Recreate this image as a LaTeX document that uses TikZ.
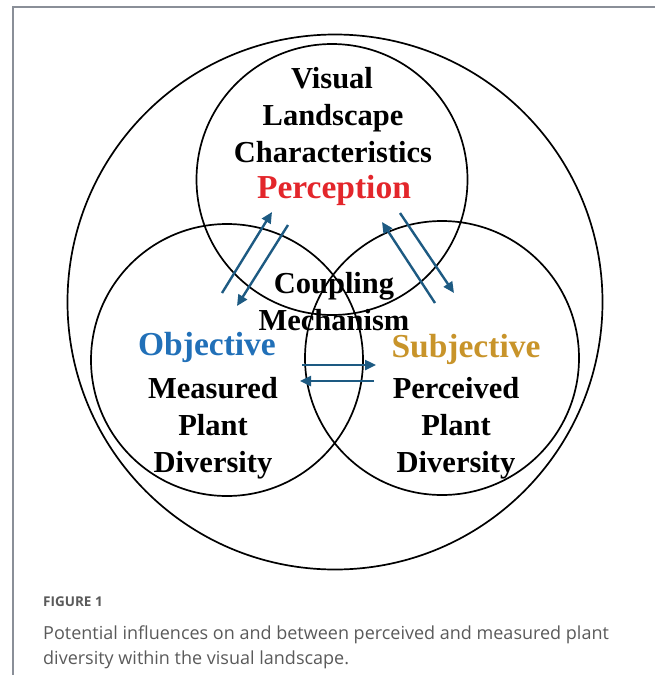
\documentclass[tikz,border=0pt]{standalone}
\usepackage{fontspec}
\setmainfont{Liberation Serif}
\newfontfamily\capfont{Open Sans}
\usetikzlibrary{arrows.meta}
\definecolor{percred}{HTML}{E3262B}
\definecolor{objblue}{HTML}{2170B8}
\definecolor{subjgold}{HTML}{C8942A}
\definecolor{flowblue}{HTML}{1D5A82}
\definecolor{framegray}{HTML}{8A8F98}
\definecolor{capgray}{HTML}{5A5A5A}
\begin{document}
\begin{tikzpicture}[x=1pt,y=-1pt,
    ring/.style={draw,line width=1.7pt},
    word/.style={font=\fontsize{30.5}{37}\selectfont\bfseries,anchor=base,inner sep=0pt},
    bigword/.style={word,font=\fontsize{33.5}{37}\selectfont\bfseries},
    flow/.style={draw=flowblue,line width=2.4pt,-{Triangle[length=11pt,width=10pt]}}]
  \useasboundingbox (0,0) rectangle (655,675);
  \draw[framegray,line width=1.4pt] (13,675) -- (13,7) -- (655,7);
  \draw[ring]
    (335,302) circle (267.5)
    (332,179.5) circle (135.5)
    (227,360) circle (136)
    (442,358) circle (137);
  \draw
    (332,88) node[word] (vis){Visual}
    (333,125) node[word] (land){Landscape}
    (333,162) node[word] (charac){Characteristics}
    (334,198) node[bigword,text=percred] (percep){Perception}
    (334,293) node[word] (coup){Coupling}
    (334,330) node[word] (mech){Mechanism}
    (207,355) node[bigword,text=objblue] (obj){Objective}
    (213,398) node[word] (meas){Measured}
    (213,435) node[word] (plantL){Plant}
    (213,472) node[word] (divL){Diversity}
    (466,357) node[bigword,text=subjgold] (subj){Subjective}
    (456,398) node[word] (perc){Perceived}
    (456,435) node[word] (plantR){Plant}
    (456,472) node[word] (divR){Diversity};
  \coordinate (lu1) at (222,293);
  \coordinate (lu2) at (272,212);
  \coordinate (ld1) at (288,225);
  \coordinate (ld2) at (237,306);
  \coordinate (ru1) at (435,303);
  \coordinate (ru2) at (382,222);
  \coordinate (rd1) at (400,213);
  \coordinate (rd2) at (454,293);
  \coordinate (mr1) at (302,365);
  \coordinate (mr2) at (376,365);
  \coordinate (ml1) at (374,381);
  \coordinate (ml2) at (300,381);
  \begin{scope}[flow]
    \draw (lu1) to (lu2);
    \draw (ld1) to (ld2);
    \draw (ru1) to (ru2);
    \draw (rd1) to (rd2);
    \draw (mr1) to (mr2);
    \draw (ml1) to (ml2);
  \end{scope}
  \node[anchor=base west,inner sep=0pt,text=capgray,font=\capfont\fontsize{13.5}{16}\selectfont\bfseries] (figlabel) at (43,606) {FIGURE 1};
  \node[anchor=base west,inner sep=0pt,text=capgray,font=\capfont\fontsize{18}{24}\selectfont] (capA) at (43,639) {Potential influences on and between perceived and measured plant};
  \node[anchor=base west,inner sep=0pt,text=capgray,font=\capfont\fontsize{18}{24}\selectfont] (capB) at (43,664) {diversity within the visual landscape.};
\end{tikzpicture}
\end{document}
